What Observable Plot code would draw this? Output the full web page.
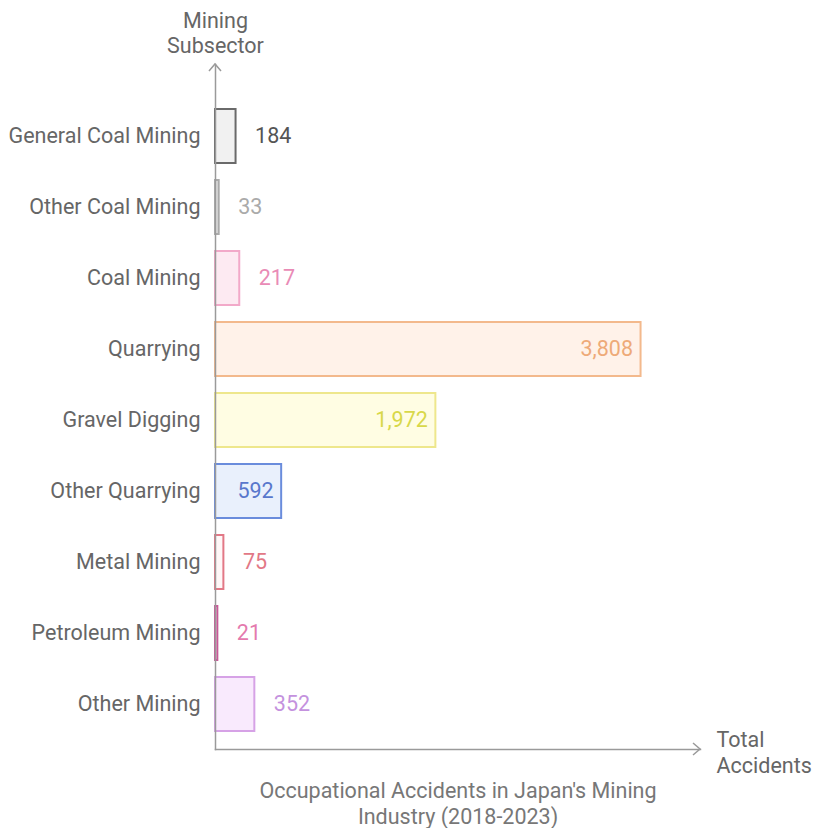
<!DOCTYPE html>
<html>
<head>
<meta charset="utf-8">
<script src="https://cdn.jsdelivr.net/npm/d3@7"></script>
<script src="https://cdn.jsdelivr.net/npm/@observablehq/plot@0.6"></script>
<style>
  html, body { margin: 0; padding: 0; background: #fff; }
  #chart svg { display: block; }
</style>
</head>
<body>
<div id="chart"></div>
<script>
const categories = ["General Coal Mining", "Other Coal Mining", "Coal Mining", "Quarrying", "Gravel Digging", "Other Quarrying", "Metal Mining", "Petroleum Mining", "Other Mining"];
const values = [184, 33, 217, 3808, 1972, 592, 75, 21, 352];
const xAxisLabel = "Total\nAccidents";
const yAxisLabel = "Mining\nSubsector";
const chartTitle = "Occupational Accidents in Japan's Mining\nIndustry (2018-2023)";

// styling palettes (per category)
const strokePalette = ["#6a6a6a", "#aaaaaa", "#f2a9c9", "#f3b98c", "#eee78c", "#6a8cdc", "#e27886", "#c75a98", "#d6a2e6"];
const fillPalette = ["#f1f1f1", "#e2e2e2", "#fdeaf2", "#fff2e9", "#fffde3", "#e9f0fc", "#fff7f7", "#f9e6f1", "#f9eafd"];
const textPalette = ["#555555", "#aaaaaa", "#e98bb6", "#eeaa78", "#d8d84a", "#5877cc", "#e27886", "#e47aae", "#c492de"];

const data = categories.map((c, i) => ({category: c, value: values[i]}));
const idx = new Map(categories.map((c, i) => [c, i]));
const fmt = d3.format(",");
const insideThreshold = 500;

const font = "Roboto, 'Noto Sans', sans-serif";
const fs = 21.5;

const chart = Plot.plot({
  width: 813,
  height: 828,
  marginLeft: 215,
  marginRight: 113,
  marginTop: 64,
  marginBottom: 79,
  style: {fontFamily: font, fontSize: fs + "px", background: "#fff", overflow: "visible"},
  x: {domain: [0, 4340], axis: null},
  y: {domain: categories, range: [91, 749], padding: 0.24, axis: null},
  marks: [
    Plot.barX(data, {
      y: "category", x: "value",
      fill: d => fillPalette[idx.get(d.category)],
      stroke: d => strokePalette[idx.get(d.category)],
      strokeWidth: 2
    }),
    Plot.axisY({
      tickSize: 0, tickPadding: 15, fontSize: fs, fill: "#666", label: null
    }),
    Plot.frame({anchor: "left", stroke: "#9a9a9a", strokeWidth: 1.5}),
    Plot.frame({anchor: "bottom", stroke: "#9a9a9a", strokeWidth: 1.5}),
    Plot.text(data.filter(d => d.value <= insideThreshold), {
      y: "category", x: "value", text: d => fmt(d.value),
      textAnchor: "start", dx: 19, fontSize: fs,
      fill: d => textPalette[idx.get(d.category)]
    }),
    Plot.text(data.filter(d => d.value > insideThreshold), {
      y: "category", x: "value", text: d => fmt(d.value),
      textAnchor: "end", dx: -8, fontSize: fs,
      fill: d => textPalette[idx.get(d.category)]
    }),
    Plot.text([yAxisLabel], {
      frameAnchor: "top-left", dx: 0, dy: -32, text: d => d,
      textAnchor: "middle", lineAnchor: "middle", lineHeight: 1.17,
      fontSize: fs, fill: "#666"
    }),
    Plot.text([xAxisLabel], {
      frameAnchor: "bottom-right", dx: 16, dy: 2, text: d => d,
      textAnchor: "start", lineAnchor: "middle", lineHeight: 1.2,
      fontSize: fs, fill: "#666"
    }),
    Plot.text([chartTitle], {
      frameAnchor: "bottom", dy: 53.5, text: d => d,
      textAnchor: "middle", lineAnchor: "middle", lineHeight: 1.17,
      fontSize: fs, fill: "#777"
    })
  ]
});

// arrowheads on axes
const xr = chart.scale("x").range;
const yr = chart.scale("y").range;
const svg = d3.select(chart);
const x0 = xr[0], x1 = xr[1], yTop = 64, yBot = yr[1];
svg.append("path")
  .attr("d", `M${x0 - 6},${yTop + 7}L${x0},${yTop}L${x0 + 6},${yTop + 7}`)
  .attr("fill", "none").attr("stroke", "#9a9a9a").attr("stroke-width", 1.5);
svg.append("path")
  .attr("d", `M${x1 - 7},${yBot - 6}L${x1},${yBot}L${x1 - 7},${yBot + 6}`)
  .attr("fill", "none").attr("stroke", "#9a9a9a").attr("stroke-width", 1.5);

document.getElementById("chart").appendChild(chart);
</script>
</body>
</html>
